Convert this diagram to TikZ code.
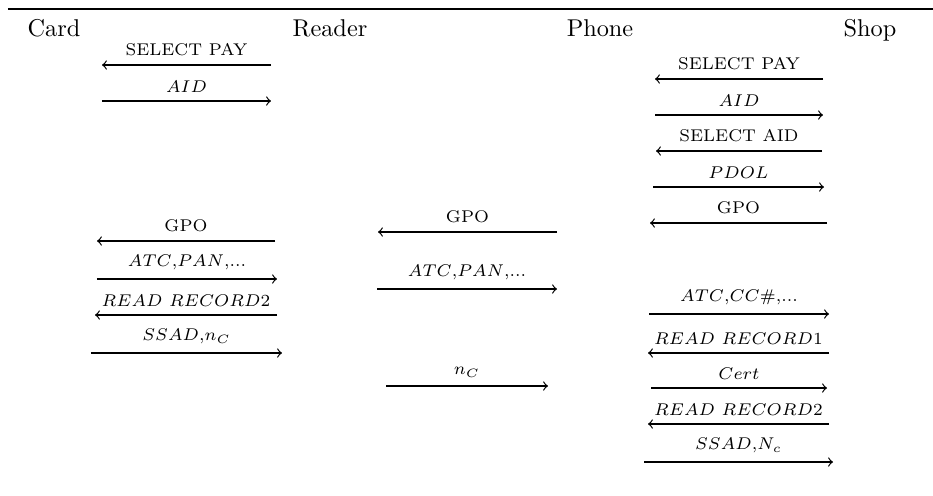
\documentclass[tikz,border=0pt]{standalone}
\usepackage{tikz}

\tikzstyle{party}=[anchor=base,inner sep=0pt]
\tikzstyle{msg} = [draw,line width=0.5pt,->]
\tikzstyle{msglabel} = [above,font=\scriptsize]
\newcommand{\sdscale}{0.01446}

\begin{document}
\begin{tikzpicture}[x=\sdscale cm, y=-\sdscale cm]
    \useasboundingbox (0,0) rectangle (933,496);
    % rule above the chart
    \coordinate (rulel) at (8,9);
    \coordinate (ruler) at (933,9);
    \draw[line width=0.8pt] (rulel) -- (ruler);
    % First we place the parties
    \foreach \pos/\name/\txt in {{(54,36)/card/Card}, {(330,36)/reader/Reader}, {(600,36)/phone/Phone}, {(870,36)/shop/Shop}}
        \node[party] (\name) at \pos {\txt};
    % end points of the messages
    \foreach \n/\y/\xa/\xb in {1/65/102/271, 2/101/102/271, 3/241/97/275, 4/279/97/277, 5/315/95/277, 6/353/91/282,
                               7/232/378/557, 8/289/377/557, 9/386/386/548,
                               10/79/655/823, 11/115/655/823, 12/151/656/822, 13/187/653/824, 14/223/650/827,
                               15/314/649/829, 16/353/648/829, 17/388/651/827, 18/424/648/829, 19/462/644/833}
    {
        \coordinate (m\n a) at (\xa,\y);
        \coordinate (m\n b) at (\xb,\y);
    }
    % messages going right
    \foreach \n/\lbl in {2/{$AID$}, 4/{$ATC$,$PAN$,...}, 6/{$SSAD$,$n_C$}, 8/{$ATC$,$PAN$,...}, 9/{$n_C$},
                         11/{$AID$}, 13/{$PDOL$}, 15/{$ATC$,$CC$\#,...}, 17/{$Cert$}, 19/{$SSAD$,$N_c$}}
        \path[msg] (m\n a) -- node[msglabel] {\lbl} (m\n b);
    % messages going left
    \foreach \n/\lbl in {1/{SELECT PAY}, 3/{GPO}, 5/{$READ\ RECORD2$}, 7/{GPO},
                         10/{SELECT PAY}, 12/{SELECT AID}, 14/{GPO}, 16/{$READ\ RECORD1$}, 18/{$READ\ RECORD2$}}
        \path[msg] (m\n b) -- node[msglabel] {\lbl} (m\n a);
\end{tikzpicture}
\end{document}
